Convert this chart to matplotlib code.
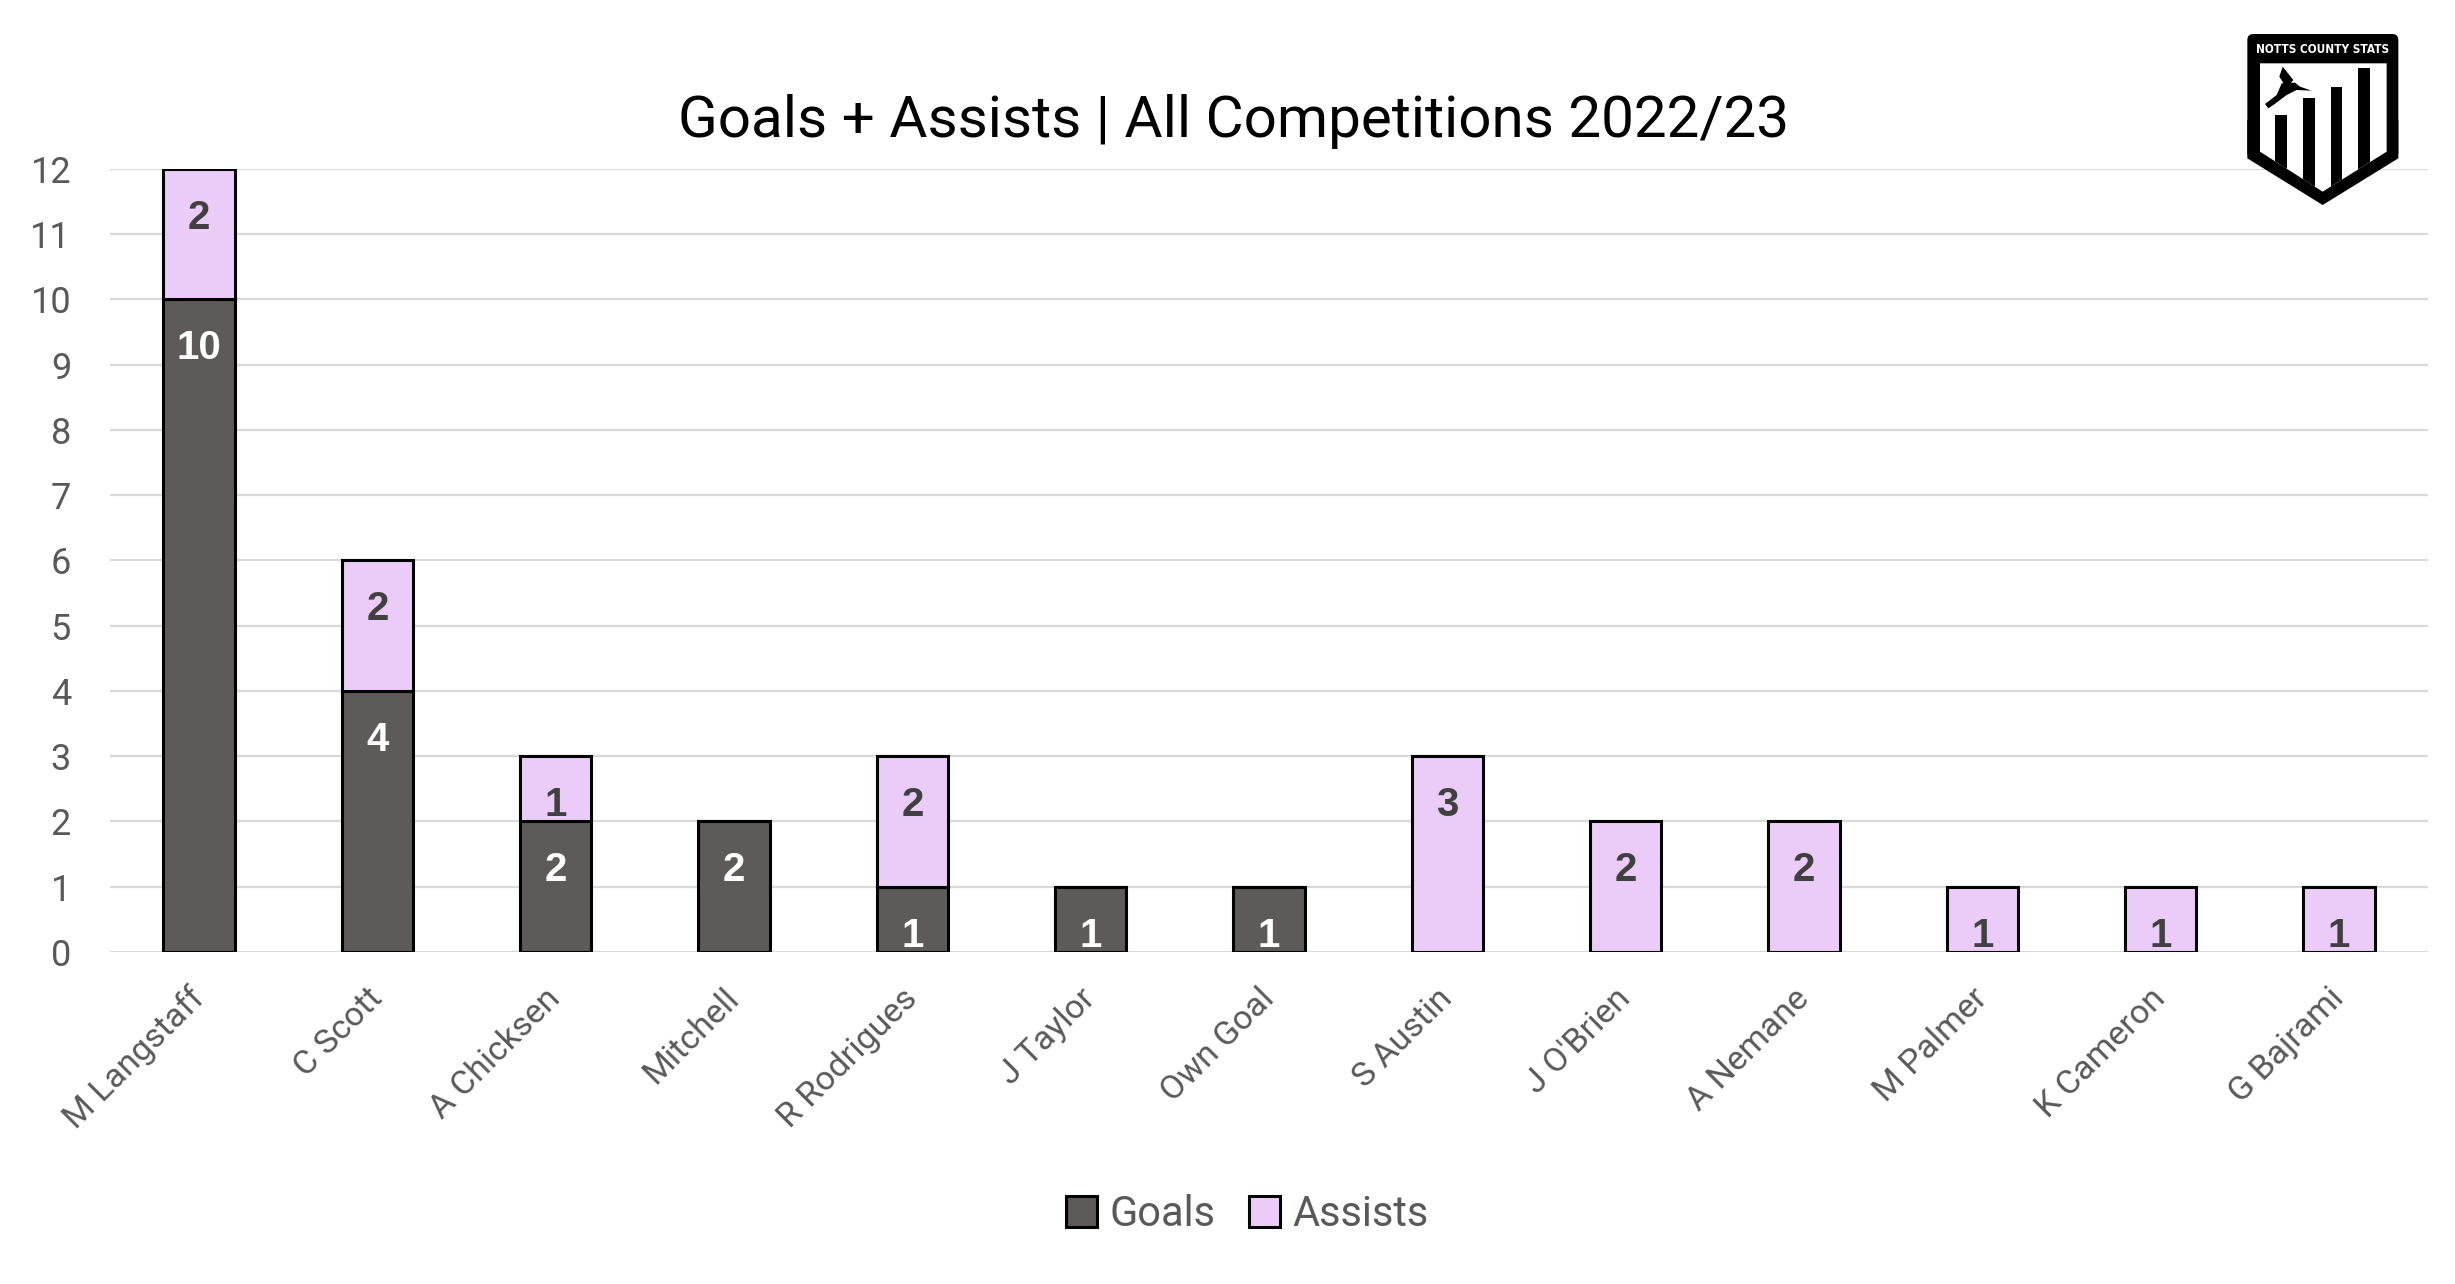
import matplotlib.pyplot as plt
import matplotlib.patches as mpatches
import numpy as np

players = ['M Langstaff', 'C Scott', 'A Chicksen', 'Mitchell', 'R Rodrigues', 'J Taylor',
           'Own Goal', 'S Austin', "J O'Brien", 'A Nemane', 'M Palmer', 'K Cameron', 'G Bajrami']
goals = [10, 4, 2, 2, 1, 1, 1, 0, 0, 0, 0, 0, 0]
assists = [2, 2, 1, 0, 2, 0, 0, 3, 2, 2, 1, 1, 1]
yticks = list(range(0, 13))

goal_col = '#5d5a59'
assist_col = '#ebccf8'
txt_col = '#595959'

fig = plt.figure(figsize=(24.55, 12.84), dpi=100)
ax = fig.add_axes([0.0448, 0.2586, 0.9442, 0.6098])

x = np.arange(len(players))
b1 = ax.bar(x, goals, width=0.4, color=goal_col, edgecolor='black', linewidth=2.2, zorder=3)
b2 = ax.bar(x, assists, width=0.4, bottom=goals, color=assist_col, edgecolor='black', linewidth=2.2, zorder=3)

# data labels sit just inside the top of each segment, clipped by the bar
for bars, vals, base, col in [(b1, goals, [0] * len(goals), 'white'), (b2, assists, goals, '#404040')]:
    for rect, v, b in zip(bars, vals, base):
        if v == 0:
            continue
        t = ax.text(rect.get_x() + rect.get_width() / 2, b + v - 0.75, str(v),
                    ha='center', va='center', fontsize=29, fontweight='bold',
                    family='Liberation Sans', color=col, zorder=4)
        t.set_clip_path(rect)

ax.set_xlim(-0.5, len(players) - 0.5)
ax.set_ylim(0, 12)
ax.set_yticks(yticks)
ax.set_xticks(x)
ax.set_xticklabels(players, rotation=45, ha='right', va='center', rotation_mode='anchor',
                   fontsize=24.5, color=txt_col, family='Roboto')
ax.tick_params(axis='x', length=0, pad=30)
ax.tick_params(axis='y', length=0, pad=28, labelsize=26, labelcolor=txt_col)
for lab in ax.get_yticklabels():
    lab.set_family('Roboto')
ax.grid(axis='y', color='#d9d9d9', linewidth=1.6, zorder=0)
for s in ax.spines.values():
    s.set_visible(False)

fig.text(0.5025, 0.905, 'Goals + Assists | All Competitions 2022/23', ha='center', va='center',
         fontsize=42, family='Roboto', color='black')

handles = [mpatches.Patch(facecolor=goal_col, edgecolor='black', linewidth=2.2, label='Goals'),
           mpatches.Patch(facecolor=assist_col, edgecolor='black', linewidth=2.2, label='Assists')]
leg = fig.legend(handles=handles, loc='center', bbox_to_anchor=(0.508, 0.054), ncol=2, frameon=False,
                 prop={'family': 'Roboto', 'size': 30}, labelcolor=txt_col,
                 handlelength=0.75, handleheight=0.75, handletextpad=0.3, columnspacing=0.8)

# logo in the top right corner
lax = fig.add_axes([2240 / 2455, 1 - 220 / 1284, 215 / 2455, 200 / 1284])
lax.set_xlim(0, 645)
lax.set_ylim(600, 0)
lax.axis('off')
outer = mpatches.FancyBboxPatch((22, 42), 453, 373, boxstyle='round,pad=0,rounding_size=18',
                                facecolor='black', edgecolor='none')
lax.add_patch(outer)
lax.add_patch(mpatches.Polygon([(22, 300), (475, 300), (475, 415), (248, 555), (22, 415)],
                               closed=True, facecolor='black', edgecolor='none'))
inner = mpatches.Polygon([(60, 130), (440, 130), (440, 395), (248, 515), (60, 395)],
                         closed=True, facecolor='white', edgecolor='none')
lax.add_patch(inner)
for x0, x1, top in [(105, 140, 285), (190, 225, 235), (272, 307, 200), (355, 390, 145)]:
    r = mpatches.Rectangle((x0, top), x1 - x0, 600 - top, facecolor='black', edgecolor='none')
    lax.add_patch(r)
    r.set_clip_path(inner)
# bird: wing, body and tail
lax.add_patch(mpatches.Polygon([(128, 140), (160, 180), (140, 205), (118, 170)],
                               closed=True, facecolor='black', edgecolor='none'))
lax.add_patch(mpatches.Polygon([(125, 190), (165, 188), (180, 200), (215, 212), (170, 210),
                                (140, 225), (100, 255), (85, 265), (75, 252), (110, 225)],
                               closed=True, facecolor='black', edgecolor='none'))
lax.text(248, 88, 'NOTTS COUNTY STATS', ha='center', va='center', color='white',
         fontsize=8.5, fontweight='bold', family='DejaVu Sans', stretch='condensed')

fig.savefig('out.png', dpi=100, facecolor='white')
